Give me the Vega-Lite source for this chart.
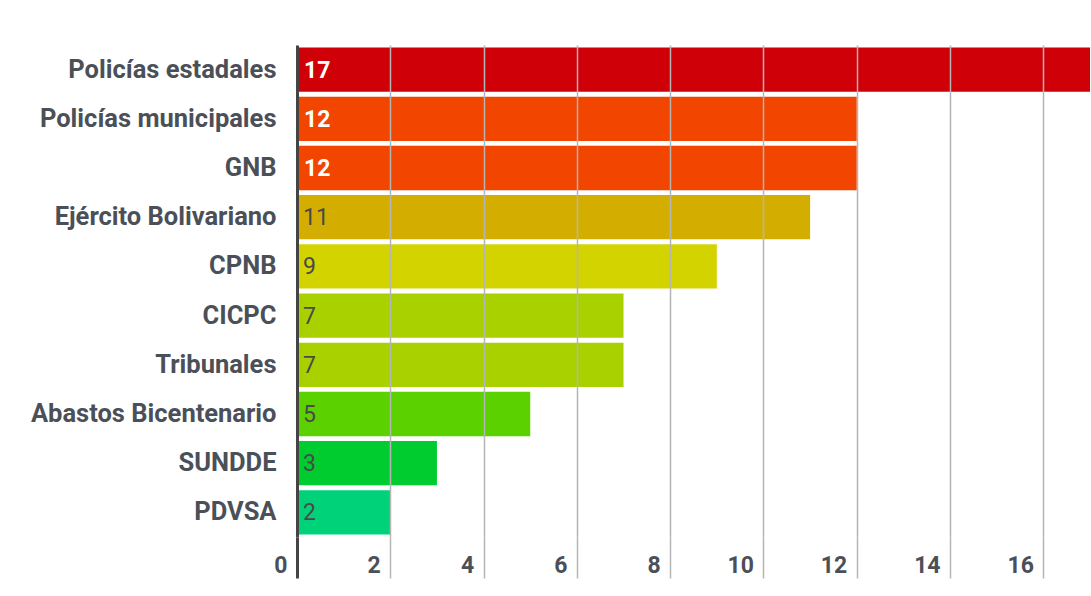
{
  "$schema": "https://vega.github.io/schema/vega-lite/v6.json",
  "autosize": "none",
  "width": 793,
  "height": 492,
  "padding": {"left": 297, "top": 45, "right": 1, "bottom": 59},
  "background": "white",
  "config": {"view": {"stroke": null}, "font": "Roboto"},
  "data": {"values": [
    {"entidad": "Policías estadales", "casos": 17},
    {"entidad": "Policías municipales", "casos": 12},
    {"entidad": "GNB", "casos": 12},
    {"entidad": "Ejército Bolivariano", "casos": 11},
    {"entidad": "CPNB", "casos": 9},
    {"entidad": "CICPC", "casos": 7},
    {"entidad": "Tribunales", "casos": 7},
    {"entidad": "Abastos Bicentenario", "casos": 5},
    {"entidad": "SUNDDE", "casos": 3},
    {"entidad": "PDVSA", "casos": 2}
  ]},
  "encoding": {
    "y": {"field": "entidad", "type": "nominal", "sort": null,
      "scale": {"paddingInner": 0.1, "paddingOuter": 0.05},
      "axis": {"title": null, "ticks": false, "domain": false, "labelPadding": 21, "labelLimit": 0,
        "labelFontSize": 25.5, "labelFontWeight": "bold", "labelColor": "#4b5058", "labelFont": "Roboto"}},
    "x": {"field": "casos", "type": "quantitative",
      "scale": {"domain": [0, 17], "nice": false},
      "axis": {"title": null, "values": [0, 2, 4, 6, 8, 10, 12, 14, 16], "domain": false,
        "grid": true,
        "gridColor": {"condition": {"test": "datum.value === 0", "value": "#444"}, "value": "#b5b5b5"},
        "gridWidth": {"condition": {"test": "datum.value === 0", "value": 3}, "value": 1.5},
        "tickColor": {"condition": {"test": "datum.value === 0", "value": "#444"}, "value": "#b5b5b5"},
        "tickWidth": {"condition": {"test": "datum.value === 0", "value": 3}, "value": 1.5},
        "tickSize": 41, "labelPadding": -6, "labelBaseline": "alphabetic",
        "labelAlign": "right", "labelOffset": -10, "labelFontSize": 23, "labelFontWeight": "bold", "labelColor": "#4b5058",
        "labelFont": "Roboto", "zindex": 1}}
  },
  "layer": [
    {"mark": {"type": "bar"},
      "encoding": {
        "color": {"field": "entidad", "type": "nominal", "legend": null,
          "scale": {
            "domain": ["Policías estadales", "Policías municipales", "GNB", "Ejército Bolivariano", "CPNB", "CICPC", "Tribunales", "Abastos Bicentenario", "SUNDDE", "PDVSA"],
            "range": ["#cf0008", "#f24500", "#f24500", "#d3ae00", "#d3d300", "#a9d100", "#a9d100", "#5bd200", "#00cc30", "#00d27a"]}}
      }},
    {"transform": [{"filter": "datum.casos >= 12"}],
      "mark": {"type": "text", "align": "left", "baseline": "middle", "dx": 7, "dy": 1, "fontSize": 23, "fontWeight": "bold", "font": "Roboto", "color": "white"},
      "encoding": {
        "x": {"datum": 0},
        "text": {"field": "casos", "type": "quantitative"}
      }},
    {"transform": [{"filter": "datum.casos < 12"}],
      "mark": {"type": "text", "align": "left", "baseline": "middle", "dx": 6, "dy": 1, "fontSize": 23, "fontWeight": "normal", "font": "Roboto", "color": "#4a4a4a"},
      "encoding": {
        "x": {"datum": 0},
        "text": {"field": "casos", "type": "quantitative"}
      }}
  ]
}
